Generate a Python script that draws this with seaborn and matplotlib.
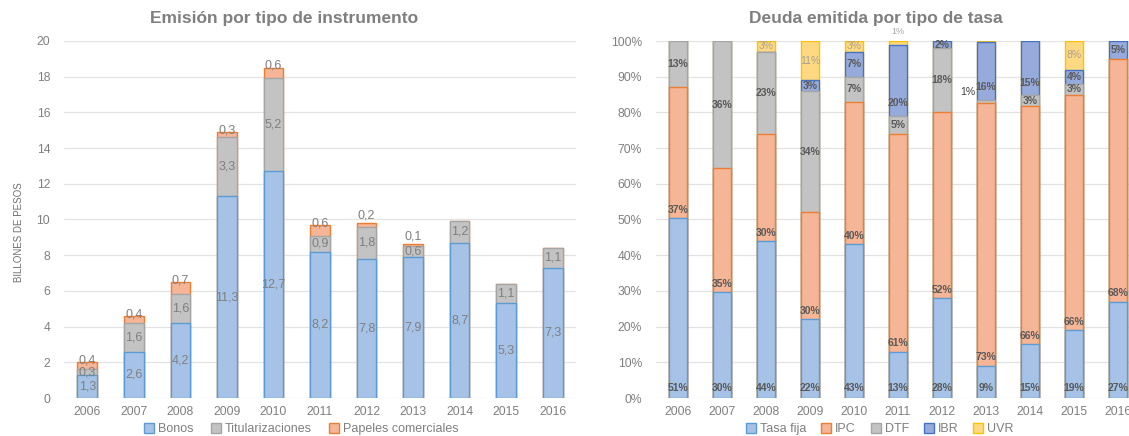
import matplotlib
matplotlib.use('Agg')
import matplotlib.pyplot as plt
import seaborn as sns
import numpy as np
import pandas as pd
from matplotlib.patches import Patch

## DATA
years = ['2006', '2007', '2008', '2009', '2010', '2011', '2012', '2013', '2014', '2015', '2016']

# Emision por tipo de instrumento (billones de pesos)
bonos = [1.3, 2.6, 4.2, 11.3, 12.7, 8.2, 7.8, 7.9, 8.7, 5.3, 7.3]
titularizaciones = [0.3, 1.6, 1.6, 3.3, 5.2, 0.9, 1.8, 0.6, 1.2, 1.1, 1.1]
papeles = [0.4, 0.4, 0.7, 0.3, 0.6, 0.6, 0.2, 0.1, 0, 0, 0]

# Deuda emitida por tipo de tasa (%)
tasa_fija = [51, 30, 44, 22, 43, 13, 28, 9, 15, 19, 27]
ipc = [37, 35, 30, 30, 40, 61, 52, 73, 66, 66, 68]
dtf = [13, 36, 23, 34, 7, 5, 18, 1, 3, 3, 0]
ibr = [0, 0, 0, 3, 7, 20, 2, 16, 15, 4, 5]
uvr = [0, 0, 3, 11, 3, 1, 0, 0.3, 0, 8, 0]

left_y_ticks = [0, 2, 4, 6, 8, 10, 12, 14, 16, 18, 20]
right_y_ticks = [0, 10, 20, 30, 40, 50, 60, 70, 80, 90, 100]

## STYLE
sns.set_style('white')
plt.rcParams['font.family'] = ['Liberation Sans', 'DejaVu Sans']

c_blue, e_blue = '#a6c3e7', '#5b9bd5'
c_gray, e_gray = '#c3c3c3', '#a5a5a5'
c_orange, e_orange = '#f5b597', '#ed7d31'
c_ibr, e_ibr = '#96abdc', '#4472c4'
c_uvr, e_uvr = '#ffd982', '#ffc000'
txt_gray = '#7f7f7f'
lbl_dark = '#595959'
grid_col = '#e3e3e3'

fig = plt.figure(figsize=(11.29, 4.36), dpi=100)
ax1 = fig.add_axes([64 / 1129, 38 / 436, 512 / 1129, 357 / 436])
ax2 = fig.add_axes([656 / 1129, 38 / 436, 484 / 1129, 357 / 436])


def stacked(ax, layers, width):
    # draw cumulative totals from the top layer down so segments overlay
    cum = np.cumsum([np.array(v, dtype=float) for v, _, _ in layers], axis=0)
    for i in range(len(layers) - 1, -1, -1):
        _, face, edge = layers[i]
        df = pd.DataFrame({'year': years, 'val': cum[i]})
        sns.barplot(data=df, x='year', y='val', order=years, color=face, saturation=1,
                    edgecolor=edge, linewidth=1.0, width=width, ax=ax)
    return cum


def style_axes(ax, ticks, fmt):
    ax.set_xlim(-0.5, 10.5)
    ax.set_ylim(0, ticks[-1])
    ax.set_yticks(ticks)
    ax.set_yticklabels([fmt(t) for t in ticks])
    ax.yaxis.grid(True, color=grid_col, linewidth=0.9)
    ax.set_axisbelow(True)
    for s in ax.spines.values():
        s.set_visible(False)
    ax.tick_params(axis='both', length=0, labelsize=8.7, labelcolor=txt_gray)
    ax.tick_params(axis='y', pad=10)
    ax.tick_params(axis='x', pad=6)
    ax.set_xlabel('')
    ax.set_ylabel('')


def fmt_num(v):
    return '{:.1f}'.format(v).replace('.', ',')


## LEFT: Emision por tipo de instrumento
cum1 = stacked(ax1, [(bonos, c_blue, e_blue),
                     (titularizaciones, c_gray, e_gray),
                     (papeles, c_orange, e_orange)], 0.42)
style_axes(ax1, left_y_ticks, lambda t: str(t))

for i in range(len(years)):
    ax1.text(i, bonos[i] / 2, fmt_num(bonos[i]), ha='center', va='center', fontsize=9, color=txt_gray)
    ax1.text(i, bonos[i] + titularizaciones[i] / 2, fmt_num(titularizaciones[i]),
             ha='center', va='center', fontsize=9, color=txt_gray)
    if papeles[i] > 0:
        top = cum1[2][i]
        y = top + 0.1 if papeles[i] >= 0.3 else top + 0.45
        ax1.text(i, y, fmt_num(papeles[i]), ha='center', va='center', fontsize=9, color=txt_gray)

fig.text(19 / 1129, 1 - 232 / 436, 'BILLONES DE PESOS', rotation=90, ha='center', va='center',
         fontsize=7, color='#6f6f6f')

fig.text(284 / 1129, 1 - 18 / 436, 'Emisión por tipo de instrumento', ha='center', va='center',
         fontsize=12.5, fontweight='bold', color=txt_gray)

fig.legend(handles=[Patch(facecolor=c_blue, edgecolor=e_blue, label='Bonos'),
                    Patch(facecolor=c_gray, edgecolor=e_gray, label='Titularizaciones'),
                    Patch(facecolor=c_orange, edgecolor=e_orange, label='Papeles comerciales')],
           loc='center', bbox_to_anchor=(301 / 1129, 1 - 429 / 436), ncol=3, frameon=False,
           fontsize=9, handlelength=0.8, handleheight=0.8, handletextpad=0.3,
           columnspacing=1.4, labelcolor=txt_gray, borderpad=0)

## RIGHT: Deuda emitida por tipo de tasa
raw = np.array([tasa_fija, ipc, dtf, ibr, uvr], dtype=float)
share = raw / raw.sum(axis=0) * 100
cum2 = stacked(ax2, [(share[0], c_blue, e_blue),
                     (share[1], c_orange, e_orange),
                     (share[2], c_gray, e_gray),
                     (share[3], c_ibr, e_ibr),
                     (share[4], c_uvr, e_uvr)], 0.42)
style_axes(ax2, right_y_ticks, lambda t: '{}%'.format(t))

bold_kw = dict(ha='center', va='center', fontsize=7.5, fontweight='bold', color=lbl_dark)
for i in range(len(years)):
    ax2.text(i, 2.8, '{:.0f}%'.format(tasa_fija[i]), **bold_kw)
    ax2.text(i, cum2[0][i] + 2.3, '{:.0f}%'.format(ipc[i]), **bold_kw)
    # DTF
    if dtf[i] >= 2:
        ax2.text(i, cum2[1][i] + share[2][i] / 2, '{:.0f}%'.format(dtf[i]), **bold_kw)
    elif dtf[i] > 0:
        ax2.text(i - 0.42, cum2[1][i] + 3, '{:.0f}%'.format(dtf[i]), ha='center', va='center',
                 fontsize=7.5, color='#404040')
    # IBR
    if ibr[i] > 10:
        ax2.text(i, cum2[2][i] + 3.5, '{:.0f}%'.format(ibr[i]), **bold_kw)
    elif ibr[i] > 0:
        ax2.text(i, cum2[2][i] + share[3][i] / 2, '{:.0f}%'.format(ibr[i]), **bold_kw)
    # UVR
    if uvr[i] >= 2:
        ax2.text(i, cum2[3][i] + share[4][i] / 2, '{:.0f}%'.format(uvr[i]), ha='center', va='center',
                 fontsize=7.5, color='#a8a08e')
    elif uvr[i] >= 0.5:
        ax2.text(i, 102.8, '{:.0f}%'.format(uvr[i]), ha='center', va='center',
                 fontsize=6.5, color='#a5a5a5', clip_on=False)

fig.text(876 / 1129, 1 - 18 / 436, 'Deuda emitida por tipo de tasa', ha='center', va='center',
         fontsize=12.5, fontweight='bold', color=txt_gray)

fig.legend(handles=[Patch(facecolor=c_blue, edgecolor=e_blue, label='Tasa fija'),
                    Patch(facecolor=c_orange, edgecolor=e_orange, label='IPC'),
                    Patch(facecolor=c_gray, edgecolor=e_gray, label='DTF'),
                    Patch(facecolor=c_ibr, edgecolor=e_ibr, label='IBR'),
                    Patch(facecolor=c_uvr, edgecolor=e_uvr, label='UVR')],
           loc='center', bbox_to_anchor=(880 / 1129, 1 - 429 / 436), ncol=5, frameon=False,
           fontsize=9, handlelength=0.8, handleheight=0.8, handletextpad=0.3,
           columnspacing=1.2, labelcolor=txt_gray, borderpad=0)

fig.savefig('out.png', dpi=100)
